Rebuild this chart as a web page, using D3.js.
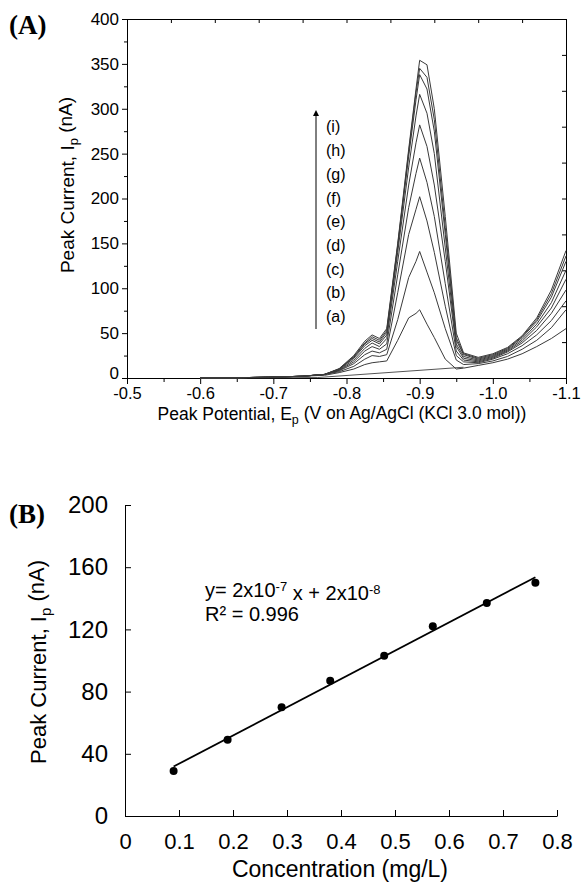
<!DOCTYPE html>
<html>
<head>
<meta charset="utf-8">
<script src="https://cdn.jsdelivr.net/npm/d3@7"></script>
<style>
  body { margin: 0; background: #fff; }
  svg { display: block; font-family: "Liberation Sans", Arial, sans-serif; }
  .domain { stroke: #000; }
  .tick line { stroke: #000; }
</style>
</head>
<body>
<div id="chart-area"></div>
<script>
// ---------- Panel A data: peak potential (V) and current (nA) for curves (a)-(i)
let potential = [-0.60, -0.65, -0.70, -0.74, -0.77, -0.79, -0.81, -0.825, -0.835, -0.845, -0.855,
    -0.87, -0.885, -0.895, -0.90, -0.91, -0.92, -0.935, -0.95, -0.96, -0.98, -1.00, -1.02,
    -1.04, -1.06, -1.08, -1.10];
let curveA = [0, 0.3, 1, 2, 3, 6, 10, 15, 17, 18, 19, 42, 67, 72, 76, 60, 45, 21, 10, 11, 14, 17, 21, 27, 35, 44, 55];
let curveB = [0, 0.3, 1, 2, 4, 7, 13, 21, 25, 24, 26, 65, 112, 130, 141, 118, 95, 55, 20, 15, 16, 19, 24, 32, 42, 56, 76];
let curveC = [0, 0.3, 1, 2, 4, 8, 16, 26, 30, 28, 32, 95, 160, 188, 202, 175, 140, 80, 25, 18, 17, 21, 27, 36, 48, 64, 86];
let curveD = [0, 0.3, 1, 2, 4, 8.5, 18, 30, 35, 32, 38, 115, 190, 228, 245, 218, 180, 105, 30, 20, 18, 22, 29, 39, 53, 72, 98];
let curveE = [0, 0.3, 1, 2, 4, 9, 20, 33, 39, 35, 44, 130, 215, 262, 282, 258, 215, 130, 35, 22, 19, 23, 30, 41, 57, 78, 110];
let curveF = [0, 0.3, 1, 2, 4, 9.5, 22, 36, 42, 38, 48, 140, 235, 292, 316, 295, 250, 145, 38, 24, 20, 24, 31, 43, 60, 84, 120];
let curveG = [0, 0.3, 1, 2, 4, 10, 23, 38, 44, 40, 51, 146, 247, 310, 338, 322, 275, 160, 42, 26, 21, 25, 32, 45, 63, 90, 130];
let curveH = [0, 0.3, 1, 2, 4, 10, 24, 39, 46, 42, 53, 148, 252, 318, 345, 335, 288, 168, 45, 27, 22, 26, 33, 46, 65, 94, 136];
let curveI = [0, 0.3, 1, 2, 4, 10.5, 25, 41, 48, 44, 55, 150, 255, 322, 354, 349, 300, 180, 50, 28, 23, 27, 34, 47, 67, 98, 142];
let blankE = [-0.60, -0.76, -0.96];
let blankI = [0, 0.5, 12];
let curveLabels = ["(a)", "(b)", "(c)", "(d)", "(e)", "(f)", "(g)", "(h)", "(i)"];

let xTicksA = [-0.5, -0.6, -0.7, -0.8, -0.9, -1.0, -1.1];
let yTicksA = [0, 50, 100, 150, 200, 250, 300, 350, 400];

// ---------- Panel B data: concentration (mg/L) vs peak current (nA)
let conc = [0.09, 0.19, 0.29, 0.38, 0.48, 0.57, 0.67, 0.76];
let peakCurrent = [29, 49, 70, 87, 103, 122, 137, 150];
let xTicksB = [0, 0.1, 0.2, 0.3, 0.4, 0.5, 0.6, 0.7, 0.8];
let yTicksB = [0, 40, 80, 120, 160, 200];

let W = 583, H = 883;
let svg = d3.select("#chart-area")
    .append("svg")
    .attr("width", W)
    .attr("height", H);

/////////////////////////// PANEL A ///////////////////////////
let a = { left: 127, right: 566, top: 19, bottom: 378 };

let xA = d3.scaleLinear().domain([-0.5, -1.1]).range([a.left, a.right]);
let yA = d3.scaleLinear().domain([0, 400]).range([a.bottom, a.top]);

// minor ticks first (no labels)
svg.append("g")
    .attr("transform", "translate(0," + a.bottom + ")")
    .call(d3.axisBottom(xA).tickValues(d3.range(-0.55, -1.1, -0.1)).tickSize(4).tickFormat(""))
    .call(g => g.select(".domain").remove());
svg.append("g")
    .attr("transform", "translate(" + a.left + ",0)")
    .call(d3.axisLeft(yA).tickValues(d3.range(25, 400, 50)).tickSize(3).tickFormat(""))
    .call(g => g.select(".domain").remove());

// X axis
svg.append("g")
    .attr("class", "x axis")
    .attr("transform", "translate(0," + a.bottom + ")")
    .call(d3.axisBottom(xA).tickValues(xTicksA).tickSize(6).tickSizeOuter(0).tickPadding(3)
        .tickFormat(d => d.toFixed(1)))
    .selectAll("text")
        .attr("font-size", "16.5px")
        .attr("fill", "#000");

// Y axis
svg.append("g")
    .attr("class", "y axis")
    .attr("transform", "translate(" + a.left + ",0)")
    .call(d3.axisLeft(yA).tickValues(yTicksA).tickSize(5).tickSizeOuter(0))
    .selectAll("text")
        .attr("font-size", "17px")
        .attr("fill", "#000")
        .attr("dy", d => d === 0 ? "0.05em" : "0.32em");

// top frame with inward ticks
svg.append("g")
    .attr("transform", "translate(0," + a.top + ")")
    .call(d3.axisBottom(xA).tickValues(d3.range(-0.5, -1.1001, -0.06)).tickSize(4).tickSizeOuter(0).tickFormat(""));

// right frame with inward ticks
svg.append("g")
    .attr("transform", "translate(" + a.right + ",0)")
    .call(d3.axisLeft(yA).tickValues(d3.range(0, 400, 40)).tickSize(4).tickSizeOuter(0).tickFormat(""));

// curves
let series = [curveA, curveB, curveC, curveD, curveE, curveF, curveG, curveH, curveI];
let lineA = d3.line()
    .x(d => xA(d[0]))
    .y(d => yA(d[1]));

let curvesG = svg.append("g").attr("class", "curves");
curvesG.append("path")
    .datum(d3.zip(blankE, blankI))
    .attr("fill", "none")
    .attr("stroke", "#555")
    .attr("stroke-width", 1)
    .attr("d", lineA);

curvesG.selectAll("path.curve")
    .data(series)
    .enter()
    .append("path")
        .attr("class", "curve")
        .attr("fill", "none")
        .attr("stroke", "#3a3a3a")
        .attr("stroke-width", 1)
        .attr("stroke-linejoin", "round")
        .attr("d", s => lineA(d3.zip(potential, s)));

// arrow + labels
let arrowX = 316;
svg.append("defs").append("marker")
    .attr("id", "arrowhead")
    .attr("viewBox", "0 0 10 10")
    .attr("refX", 5).attr("refY", 5)
    .attr("markerWidth", 6).attr("markerHeight", 8)
    .attr("orient", "auto")
    .append("path")
        .attr("d", "M0,0 L10,5 L0,10 z")
        .attr("fill", "#000");

svg.append("line")
    .attr("x1", arrowX).attr("x2", arrowX)
    .attr("y1", 329).attr("y2", 113)
    .attr("stroke", "#000")
    .attr("stroke-width", 1)
    .attr("marker-end", "url(#arrowhead)");

svg.append("g")
    .selectAll("text")
    .data(curveLabels)
    .enter()
    .append("text")
        .attr("x", arrowX + 10)
        .attr("y", (d, i) => 322 - i * 23.7)
        .attr("font-size", "16px")
        .text(d => d);

// axis titles
let ylabA = svg.append("text")
    .attr("transform", "translate(74," + 185 + ") rotate(-90)")
    .attr("text-anchor", "middle")
    .attr("font-size", "19px");
ylabA.append("tspan").text("Peak Current, I");
ylabA.append("tspan").attr("dy", "0.3em").attr("font-size", "13px").text("p");
ylabA.append("tspan").attr("dy", "-0.3em").text(" (nA)");

let xlabA = svg.append("text")
    .attr("x", 342)
    .attr("y", 420)
    .attr("text-anchor", "middle")
    .attr("font-size", "17.5px");
xlabA.append("tspan").text("Peak Potential, E");
xlabA.append("tspan").attr("dy", "0.3em").attr("font-size", "12.5px").text("p");
xlabA.append("tspan").attr("dy", "-0.3em").text(" (V on Ag/AgCl (KCl 3.0 mol))");

svg.append("text")
    .attr("x", 9).attr("y", 34)
    .attr("font-family", "Liberation Serif, Times New Roman, serif")
    .attr("font-weight", "bold")
    .attr("font-size", "27px")
    .text("(A)");

/////////////////////////// PANEL B ///////////////////////////
let b = { left: 125, right: 557, top: 505, bottom: 816 };

let xB = d3.scaleLinear().domain([0, 0.8]).range([b.left, b.right]);
let yB = d3.scaleLinear().domain([0, 200]).range([b.bottom, b.top]);

svg.append("g")
    .attr("transform", "translate(0," + b.bottom + ")")
    .call(d3.axisBottom(xB).tickValues(xTicksB).tickSizeInner(-6).tickSizeOuter(0).tickPadding(17)
        .tickFormat(d => d === 0 ? "0" : d.toFixed(1)))
    .selectAll("text")
        .attr("font-size", "22px")
        .attr("fill", "#000");

svg.append("g")
    .attr("transform", "translate(" + b.left + ",0)")
    .call(d3.axisLeft(yB).tickValues(yTicksB).tickSizeInner(-6).tickSizeOuter(0).tickPadding(17))
    .selectAll("text")
        .attr("font-size", "24px")
        .attr("fill", "#000");

// least-squares trend line from the points
let mx = d3.mean(conc), my = d3.mean(peakCurrent);
let sxy = d3.sum(conc, (c, i) => (c - mx) * (peakCurrent[i] - my));
let sxx = d3.sum(conc, c => (c - mx) * (c - mx));
let slope = sxy / sxx, intercept = my - slope * mx;
let xExt = d3.extent(conc);

svg.append("line")
    .attr("x1", xB(xExt[0])).attr("y1", yB(intercept + slope * xExt[0]))
    .attr("x2", xB(xExt[1])).attr("y2", yB(intercept + slope * xExt[1]))
    .attr("stroke", "#000")
    .attr("stroke-width", 1.8);

svg.append("g")
    .selectAll("circle")
    .data(d3.zip(conc, peakCurrent))
    .enter()
    .append("circle")
        .attr("cx", d => xB(d[0]))
        .attr("cy", d => yB(d[1]))
        .attr("r", 4)
        .attr("fill", "#000");

// equation
let eq = svg.append("text")
    .attr("x", 205).attr("y", 597)
    .attr("font-size", "20px");
eq.append("tspan").text("y= 2x10");
eq.append("tspan").attr("dy", "-0.45em").attr("font-size", "13px").text("-7");
eq.append("tspan").attr("dy", "0.45em").text(" x + 2x10");
eq.append("tspan").attr("dy", "-0.45em").attr("font-size", "13px").text("-8");

svg.append("text")
    .attr("x", 205).attr("y", 621)
    .attr("font-size", "20px")
    .text("R\u00b2 = 0.996");

let ylabB = svg.append("text")
    .attr("transform", "translate(46," + 662 + ") rotate(-90)")
    .attr("text-anchor", "middle")
    .attr("font-size", "22px");
ylabB.append("tspan").text("Peak Current, I");
ylabB.append("tspan").attr("dy", "0.3em").attr("font-size", "15px").text("p");
ylabB.append("tspan").attr("dy", "-0.3em").text(" (nA)");

svg.append("text")
    .attr("x", 340).attr("y", 877)
    .attr("text-anchor", "middle")
    .attr("font-size", "23px")
    .text("Concentration (mg/L)");

svg.append("text")
    .attr("x", 9).attr("y", 523)
    .attr("font-family", "Liberation Serif, Times New Roman, serif")
    .attr("font-weight", "bold")
    .attr("font-size", "27px")
    .text("(B)");
</script>
</body>
</html>
